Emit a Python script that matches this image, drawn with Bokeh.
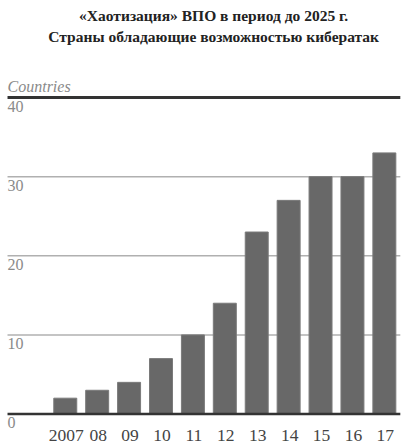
from bokeh.plotting import figure
from bokeh.models import Range1d, Label
from bokeh.core.properties import value
from bokeh.embed import file_html
from bokeh.resources import INLINE

years = ["2007", "08", "09", "10", "11", "12", "13", "14", "15", "16", "17"]
countries = [2, 3, 4, 7, 10, 14, 23, 27, 30, 30, 33]
y_ticks = [0, 10, 20, 30, 40]
title_line1 = "«Хаотизация» ВПО в период до 2025 г."
title_line2 = "Страны обладающие возможностью кибератак"
y_label = "Countries"

idx = list(range(len(years)))
X0, X1 = -2.03, 10.60
Y0, Y1 = -3.98, 52.26
XL, XR = -1.81, 10.50  # extent of the rules

p = figure(width=403, height=445, output_backend="svg", toolbar_location=None,
           x_axis_type=None, y_axis_type=None,
           x_range=Range1d(X0, X1), y_range=Range1d(Y0, Y1),
           min_border=0, min_border_left=0, min_border_right=0,
           min_border_top=0, min_border_bottom=0)
p.outline_line_color = None
p.grid.visible = False
p.background_fill_color = "white"

mid = [t for t in y_ticks if 0 < t < 40]
p.segment(x0=[XL] * len(mid), x1=[XR] * len(mid), y0=mid, y1=mid,
          line_color="#b0b0b0", line_width=1.5)
p.segment(x0=[XL], x1=[XR], y0=[max(y_ticks)], y1=[max(y_ticks)],
          line_color="#333333", line_width=3)

p.vbar(x=idx, top=countries, bottom=0, width=0.72, fill_color="#686868",
       line_color="#7a7a7a", line_width=1)

p.segment(x0=[XL], x1=[XR], y0=[0], y1=[0], line_color="#333333", line_width=2.5)

# y tick labels (below each line, at left)
p.text(x=[XL] * len(y_ticks), y=y_ticks, text=[str(t) for t in y_ticks],
       text_font=value("Liberation Serif"), text_font_size="16px",
       text_color="#8a8a8a", text_align="left", text_baseline="top",
       x_offset=0, y_offset=3)

# x labels
p.text(x=idx, y=[0] * len(idx), text=years,
       text_font=value("Liberation Serif"), text_font_size="17.5px",
       text_color="#444444", text_align="center", text_baseline="alphabetic",
       x_offset=1, y_offset=21)

p.add_layout(Label(x=XL, y=41.39, text=y_label, text_font="Liberation Serif",
                   text_font_style="italic", text_font_size="16px",
                   text_color="#8a8a8a", text_baseline="alphabetic"))
p.add_layout(Label(x=4.65, y=50.36, text=title_line1, text_font="Liberation Serif",
                   text_font_style="bold", text_font_size="15.5px",
                   text_color="#222222", text_align="center", text_baseline="alphabetic"))
p.add_layout(Label(x=4.65, y=47.71, text=title_line2, text_font="Liberation Serif",
                   text_font_style="bold", text_font_size="15.5px",
                   text_color="#222222", text_align="center", text_baseline="alphabetic"))

open("out.html", "w").write(file_html(p, INLINE))
